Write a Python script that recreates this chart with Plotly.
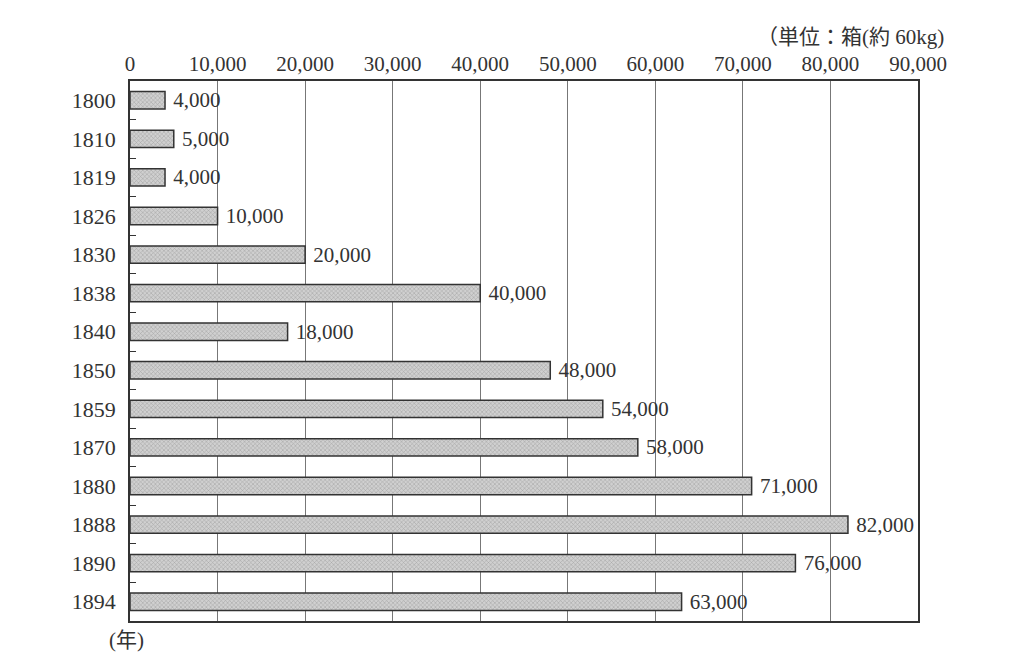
import plotly.graph_objects as go

# 年ごとの輸出量（箱）
years = ["1800", "1810", "1819", "1826", "1830", "1838", "1840",
         "1850", "1859", "1870", "1880", "1888", "1890", "1894"]
boxes = [4000, 5000, 4000, 10000, 20000, 40000, 18000,
         48000, 54000, 58000, 71000, 82000, 76000, 63000]

x_ticks = [0, 10000, 20000, 30000, 40000, 50000, 60000, 70000, 80000, 90000]
x_labels = ["0", "10,000", "20,000", "30,000", "40,000", "50,000",
            "60,000", "70,000", "80,000", "90,000"]

font_family = "Liberation Serif, DejaVu Serif, Noto Sans CJK JP"

fig = go.Figure()
fig.add_trace(go.Bar(
    x=boxes, y=years, orientation="h",
    width=0.45,
    marker=dict(
        color="#d0d0d0",
        line=dict(color="#333333", width=1.5),
        pattern=dict(shape="x", fgcolor="#707070", size=3, solidity=0.3),
    ),
    # nbsp so the label sits a bit off the bar end
    text=["\u00a0" + f"{v:,}" for v in boxes],
    textposition="outside",
    constraintext="none",
    cliponaxis=False,
    textfont=dict(family=font_family, size=21, color="#333333"),
))

fig.update_layout(
    width=1024, height=671,
    margin=dict(l=122, r=114, t=73, b=58),
    paper_bgcolor="white", plot_bgcolor="white",
    showlegend=False,
    font=dict(family=font_family, size=20, color="#333333"),
    xaxis=dict(
        side="top", range=[0, 90000],
        tickvals=x_ticks, ticktext=x_labels,
        tickfont=dict(size=21),
        showgrid=True, gridcolor="#777777", gridwidth=1,
        showline=True, linecolor="#333333", linewidth=1.5, mirror=True,
        zeroline=False, ticks="",
    ),
    yaxis=dict(
        autorange="reversed", type="category",
        tickfont=dict(size=22),
        showline=True, linecolor="#333333", linewidth=1.5, mirror=True,
        ticks="inside", tickson="boundaries", ticklen=6, tickcolor="#333333",
        showgrid=False, ticklabelstandoff=8,
    ),
    annotations=[
        dict(text="（単位：箱(約 60kg)", xref="paper", yref="paper",
             x=1.035, y=1.0, yshift=30, xanchor="right", yanchor="bottom",
             showarrow=False, font=dict(size=21)),
        dict(text="(年)", xref="paper", yref="paper",
             x=0.0, y=0.0, xshift=-4, yshift=-5, xanchor="center", yanchor="top",
             showarrow=False, font=dict(size=21)),
    ],
)

fig.write_html("out.html")
